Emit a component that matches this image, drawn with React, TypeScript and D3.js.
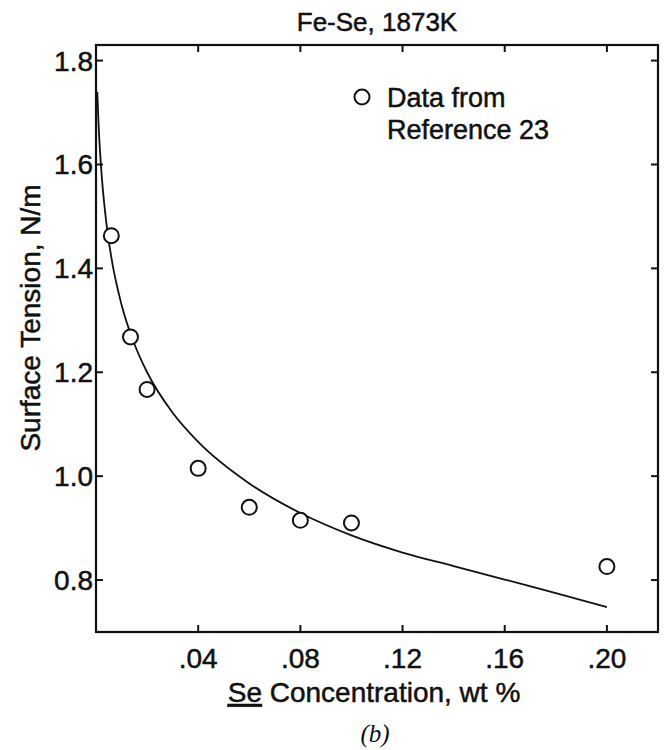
import React from "react";
import * as d3 from "d3";

const title = "Fe-Se, 1873K";
const xTickValues = [0.04, 0.08, 0.12, 0.16, 0.2];
const xTickLabels = [".04", ".08", ".12", ".16", ".20"];
const yTickValues = [0.8, 1.0, 1.2, 1.4, 1.6, 1.8];
const yTickLabels = ["0.8", "1.0", "1.2", "1.4", "1.6", "1.8"];

// measured data (open circles)
const dataConc = [0.006, 0.0135, 0.02, 0.04, 0.06, 0.08, 0.1, 0.2];
const dataTension = [1.463, 1.268, 1.167, 1.015, 0.94, 0.915, 0.91, 0.826];

// fitted curve
const curveConc = [0.0005, 0.001, 0.002, 0.004, 0.006, 0.01, 0.015, 0.02, 0.03, 0.04, 0.06, 0.08, 0.1, 0.12, 0.14, 0.16, 0.18, 0.2];
const curveTension = [1.74, 1.678, 1.594, 1.49, 1.421, 1.33, 1.255, 1.2, 1.122, 1.066, 0.986, 0.929, 0.886, 0.853, 0.827, 0.801, 0.775, 0.748];

const W = 664;
const H = 750;
const left = 96;
const right = 658;
const top = 45;
const bottom = 632;

export default function App() {
  const x = d3.scaleLinear().domain([0, 0.22]).range([left, right]);
  const y = d3.scaleLinear().domain([0.7, 1.83]).range([bottom, top]);
  const pts = curveConc.map((c, i) => [c, curveTension[i]] as [number, number]);
  const line = d3
    .line<[number, number]>()
    .x((d) => x(d[0]))
    .y((d) => y(d[1]))
    .curve(d3.curveMonotoneX);
  const font = "'Liberation Sans', Arial, Helvetica, sans-serif";
  const tick = 7;
  const ts = { stroke: "#111", strokeWidth: 0.5 };
  return (
    <svg
      width={W}
      height={H}
      viewBox={`0 0 ${W} ${H}`}
      style={{ position: "absolute", left: 0, top: 0, background: "#fff" }}
    >
      <rect x={0} y={0} width={W} height={H} fill="#fff" />
      <text x={377} y={31} textAnchor="middle" fontFamily={font} fontSize={26} fill="#111" {...ts}>
        {title}
      </text>
      {/* frame */}
      <rect x={left} y={top} width={right - left} height={bottom - top} fill="none" stroke="#111" strokeWidth={2.2} />
      {/* x ticks */}
      {xTickValues.map((v, i) => (
        <g key={"xt" + i}>
          <line x1={x(v)} x2={x(v)} y1={bottom} y2={bottom - tick} stroke="#111" strokeWidth={2} />
          <line x1={x(v)} x2={x(v)} y1={top} y2={top + tick} stroke="#111" strokeWidth={2} />
          <text x={x(v)} y={bottom + 36} textAnchor="middle" fontFamily={font} fontSize={28} fill="#111" {...ts}>
            {xTickLabels[i]}
          </text>
        </g>
      ))}
      {/* y ticks */}
      {yTickValues.map((v, i) => (
        <g key={"yt" + i}>
          <line x1={left} x2={left + tick} y1={y(v)} y2={y(v)} stroke="#111" strokeWidth={2} />
          <line x1={right} x2={right - tick} y1={y(v)} y2={y(v)} stroke="#111" strokeWidth={2} />
          <text x={left - 3} y={y(v) + 10} textAnchor="end" fontFamily={font} fontSize={28} fill="#111" {...ts}>
            {yTickLabels[i]}
          </text>
        </g>
      ))}
      {/* curve */}
      <path d={line(pts) || ""} fill="none" stroke="#111" strokeWidth={1.8} />
      {/* data circles */}
      {dataConc.map((c, i) => (
        <circle key={"p" + i} cx={x(c)} cy={y(dataTension[i])} r={7.5} fill="#fff" stroke="#111" strokeWidth={2} />
      ))}
      {/* legend */}
      <circle cx={362} cy={97} r={7.5} fill="#fff" stroke="#111" strokeWidth={2} />
      <text x={387} y={107} fontFamily={font} fontSize={27} fill="#111" {...ts}>
        Data from
      </text>
      <text x={387} y={139} fontFamily={font} fontSize={27} fill="#111" {...ts}>
        Reference 23
      </text>
      {/* axis titles */}
      <text
        transform={`translate(40, 318) rotate(-90)`}
        textAnchor="middle"
        fontFamily={font}
        fontSize={28}
        fill="#111"
        {...ts}
      >
        Surface Tension, N/m
      </text>
      <text x={374} y={702} textAnchor="middle" fontFamily={font} fontSize={28} fill="#111" {...ts}>
        <tspan style={{ textDecoration: "underline" }}>Se</tspan> Concentration, wt %
      </text>
      <text x={375} y={742} textAnchor="middle" fontFamily="'Liberation Serif', 'Times New Roman', serif" fontStyle="italic" fontSize={25} fill="#111">
        (b)
      </text>
    </svg>
  );
}
